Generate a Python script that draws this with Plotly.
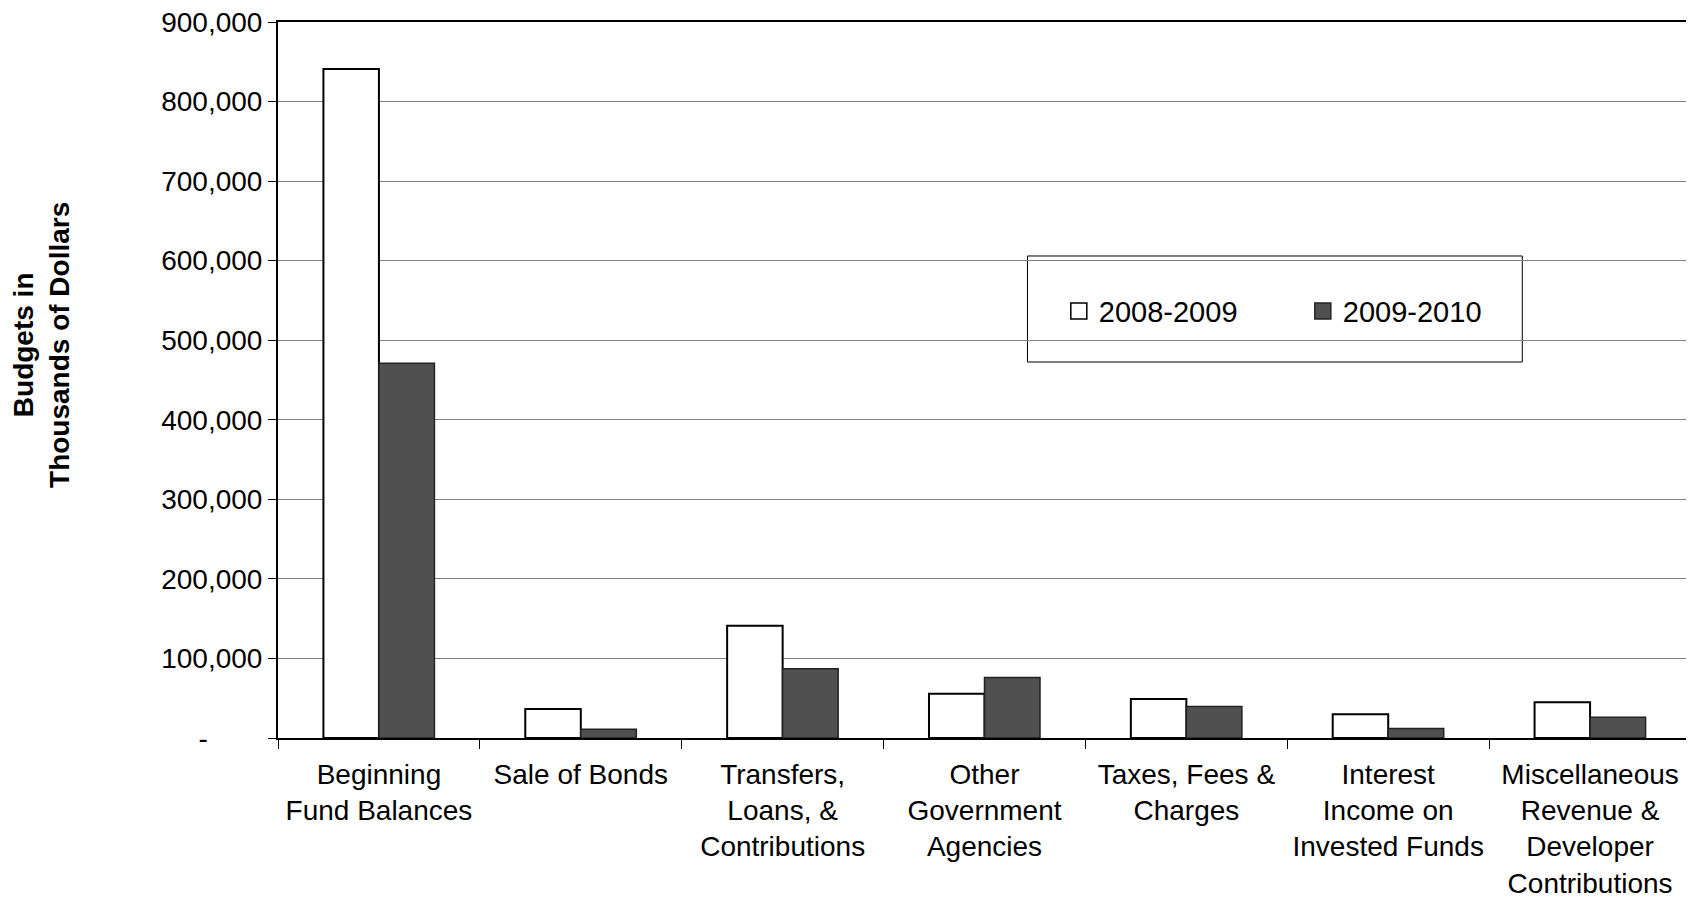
import plotly.graph_objects as go

categories = [
    "Beginning<br>Fund Balances",
    "Sale of Bonds",
    "Transfers,<br>Loans, &<br>Contributions",
    "Other<br>Government<br>Agencies",
    "Taxes, Fees &<br>Charges",
    "Interest<br>Income on<br>Invested Funds",
    "Miscellaneous<br>Revenue &<br>Developer<br>Contributions",
]
budget_2008_2009 = [841000, 36500, 141000, 55500, 49000, 30000, 45000]
budget_2009_2010 = [471000, 11000, 87000, 76000, 39500, 12000, 26000]
series_names = ["2008-2009", "2009-2010"]

y_tickvals = [0, 100000, 200000, 300000, 400000, 500000, 600000, 700000, 800000, 900000]
y_ticktext = ["-" + "\u00a0" * 7, "100,000", "200,000", "300,000", "400,000", "500,000",
              "600,000", "700,000", "800,000", "900,000"]

FONT = "Liberation Sans, Arial, sans-serif"
FILLS = ["white", "#505050"]
LINES = ["black", "#222222"]

fig = go.Figure()
for name, vals, fill, line in zip(series_names, [budget_2008_2009, budget_2009_2010], FILLS, LINES):
    fig.add_trace(go.Bar(
        name=name, x=categories, y=vals, showlegend=False,
        marker=dict(color=fill, line=dict(color=line, width=2 if fill == "white" else 1.5)),
    ))
# legend entries with larger square keys
for name, fill, line in zip(series_names, FILLS, LINES):
    fig.add_trace(go.Scatter(
        name=name, x=[None], y=[None], mode="markers", showlegend=True,
        marker=dict(symbol="square", size=16, color=fill, line=dict(color=line, width=1.5)),
        hoverinfo="skip",
    ))

fig.update_layout(
    width=1694, height=897,
    margin=dict(l=270, r=11, t=14, b=167),
    paper_bgcolor="white", plot_bgcolor="white",
    font=dict(family=FONT, size=28, color="black"),
    barmode="group", bargap=0.45, bargroupgap=0,
    showlegend=True,
    legend=dict(
        orientation="h", x=0.5526, y=0.596, xanchor="left", yanchor="middle",
        bgcolor="rgba(0,0,0,0)", borderwidth=0,
        font=dict(family=FONT, size=29, color="black"),
        entrywidth=199, itemsizing="trace",
    ),
    shapes=[dict(
        type="rect", xref="paper", yref="paper",
        x0=0.5304, x1=0.8806, y0=0.5251, y1=0.6732,
        fillcolor="white", line=dict(color="black", width=1), layer="between",
    )],
    annotations=[dict(
        text="<b>Budgets in<br>Thousands of Dollars</b>",
        xref="paper", yref="paper", x=-0.1675, y=0.5494,
        xanchor="center", yanchor="middle", textangle=-90, showarrow=False,
        font=dict(family=FONT, size=28, color="black"),
    )],
)

fig.update_xaxes(
    showline=True, linecolor="black", linewidth=2, mirror=True,
    ticks="outside", tickson="boundaries", ticklen=9, tickcolor="black", tickwidth=1,
    tickfont=dict(family=FONT, size=28, color="black"),
    ticklabelstandoff=10, automargin=False, showgrid=False,
    ticklabeloverflow="allow",
)
fig.update_yaxes(
    range=[0, 900000], tickvals=y_tickvals, ticktext=y_ticktext,
    showline=True, linecolor="black", linewidth=2, mirror=True,
    ticks="outside", ticklen=8, tickcolor="black", tickwidth=1,
    showgrid=True, gridcolor="#808080", gridwidth=1,
    tickfont=dict(family=FONT, size=28, color="black"),
    automargin=False, zeroline=False, ticklabeloverflow="allow",
)

fig.write_html("out.html")
